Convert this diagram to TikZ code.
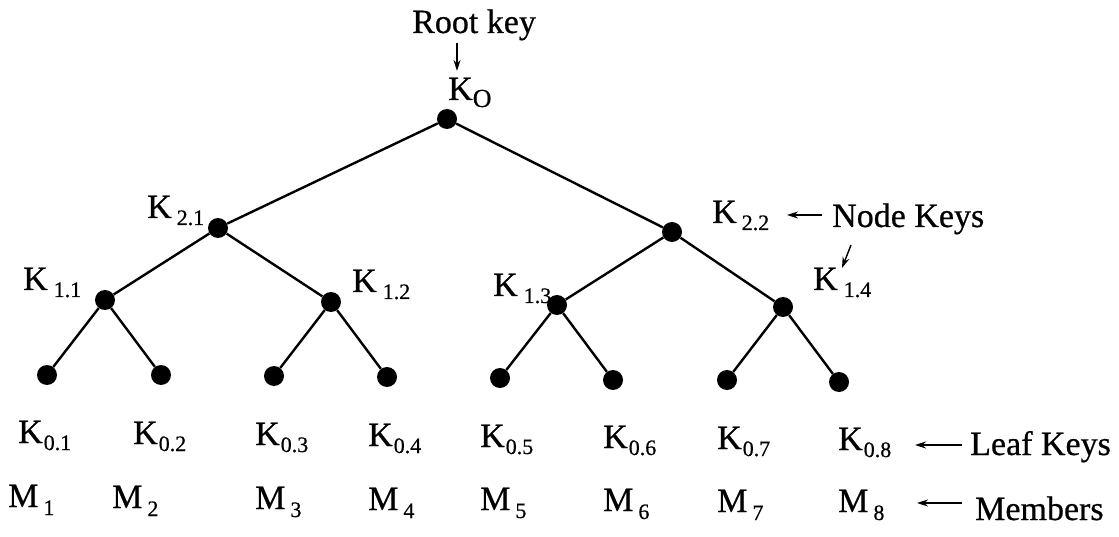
\documentclass[tikz,border=0pt]{standalone}
\usepackage{fontspec}
\setmainfont{Liberation Serif}[FakeBold=0.6]
\usetikzlibrary{arrows.meta}
\newcommand\subk[2][1pt]{K\kern#1\raisebox{-7pt}{\fontsize{22}{22}\selectfont #2}}
\newcommand\subm[2][5pt]{M\kern#1\raisebox{-8pt}{\fontsize{22}{22}\selectfont #2}}
\begin{document}
\begin{tikzpicture}[x=1pt,y=-1pt,
  dot/.style={circle,fill=black,inner sep=0pt,minimum size=20pt},
  edge/.style={line width=2.4pt},
  lbl/.style={anchor=base west,inner sep=0pt,font=\fontsize{34}{40}\selectfont},
  arr/.style={-{Stealth[length=11pt,width=7pt]},line width=1.4pt}]
\useasboundingbox (0,0) rectangle (1119,537);
% tree nodes
\node[dot] (root) at (447,119) {};
\node[dot] (k21) at (218,228) {};
\node[dot] (k22) at (672,232) {};
\node[dot] (k11) at (105,300) {};
\node[dot] (k12) at (331,302) {};
\node[dot] (k13) at (557,305) {};
\node[dot] (k14) at (783,307) {};
\node[dot] (l1) at (47,375) {};
\node[dot] (l2) at (161,375) {};
\node[dot] (l3) at (274,376) {};
\node[dot] (l4) at (387,377) {};
\node[dot] (l5) at (500,378) {};
\node[dot] (l6) at (613,380) {};
\node[dot] (l7) at (727,380) {};
\node[dot] (l8) at (839,382) {};
\draw[edge] (root) -- (k21);
\draw[edge] (root) -- (k22);
\draw[edge] (k21) -- (k11);
\draw[edge] (k21) -- (k12);
\draw[edge] (k22) -- (k13);
\draw[edge] (k22) -- (k14);
\draw[edge] (k11) -- (l1);
\draw[edge] (k11) -- (l2);
\draw[edge] (k12) -- (l3);
\draw[edge] (k12) -- (l4);
\draw[edge] (k13) -- (l5);
\draw[edge] (k13) -- (l6);
\draw[edge] (k14) -- (l7);
\draw[edge] (k14) -- (l8);
% labels
\node[lbl] (rk) at (412,33) {Root key};
\node[lbl] (ko) at (448,100) {K\raisebox{-7pt}{\fontsize{26}{26}\selectfont O}};
\node[lbl] (t21) at (147,218) {\subk[5pt]{2.1}};
\node[lbl] (t22) at (712,223) {\subk[5pt]{2.2}};
\node[lbl] (t11) at (23,290) {\subk[6pt]{1.1}};
\node[lbl] (t12) at (352,292) {\subk[6pt]{1.2}};
\node[lbl] (t13) at (493,296) {\subk[6pt]{1.3}};
\node[lbl] (t14) at (813,290) {\subk[6pt]{1.4}};
\node[lbl] (nk) at (832,227) {Node Keys};
\node[lbl] (a1) at (18,443) {\subk{0.1}};
\node[lbl] (a2) at (133,444) {\subk{0.2}};
\node[lbl] (a3) at (255,445) {\subk{0.3}};
\node[lbl] (a4) at (368,446) {\subk{0.4}};
\node[lbl] (a5) at (480,447) {\subk{0.5}};
\node[lbl] (a6) at (603,448) {\subk{0.6}};
\node[lbl] (a7) at (717,449) {\subk{0.7}};
\node[lbl] (a8) at (838,450) {\subk{0.8}};
\node[lbl] (lk) at (970,455) {Leaf Keys};
\node[lbl] (m1) at (8,507) {\subm{1}};
\node[lbl] (m2) at (112,508) {\subm{2}};
\node[lbl] (m3) at (255,509) {\subm{3}};
\node[lbl] (m4) at (368,510) {\subm{4}};
\node[lbl] (m5) at (480,510) {\subm{5}};
\node[lbl] (m6) at (603,511) {\subm{6}};
\node[lbl] (m7) at (717,512) {\subm{7}};
\node[lbl] (m8) at (838,512) {\subm{8}};
\node[lbl] (mb) at (975,520) {Members};
% arrows
\coordinate (r1) at (457,43);  \coordinate (r2) at (457,71);
\coordinate (n1) at (822,215); \coordinate (n2) at (787,215);
\coordinate (n3) at (851,245); \coordinate (n4) at (842,268);
\coordinate (f1) at (962,445); \coordinate (f2) at (915,445);
\coordinate (g1) at (962,503); \coordinate (g2) at (917,503);
\draw[arr] (r1) -- (r2);
\draw[arr] (n1) -- (n2);
\draw[arr] (n3) -- (n4);
\draw[arr] (f1) -- (f2);
\draw[arr] (g1) -- (g2);
\end{tikzpicture}
\end{document}
